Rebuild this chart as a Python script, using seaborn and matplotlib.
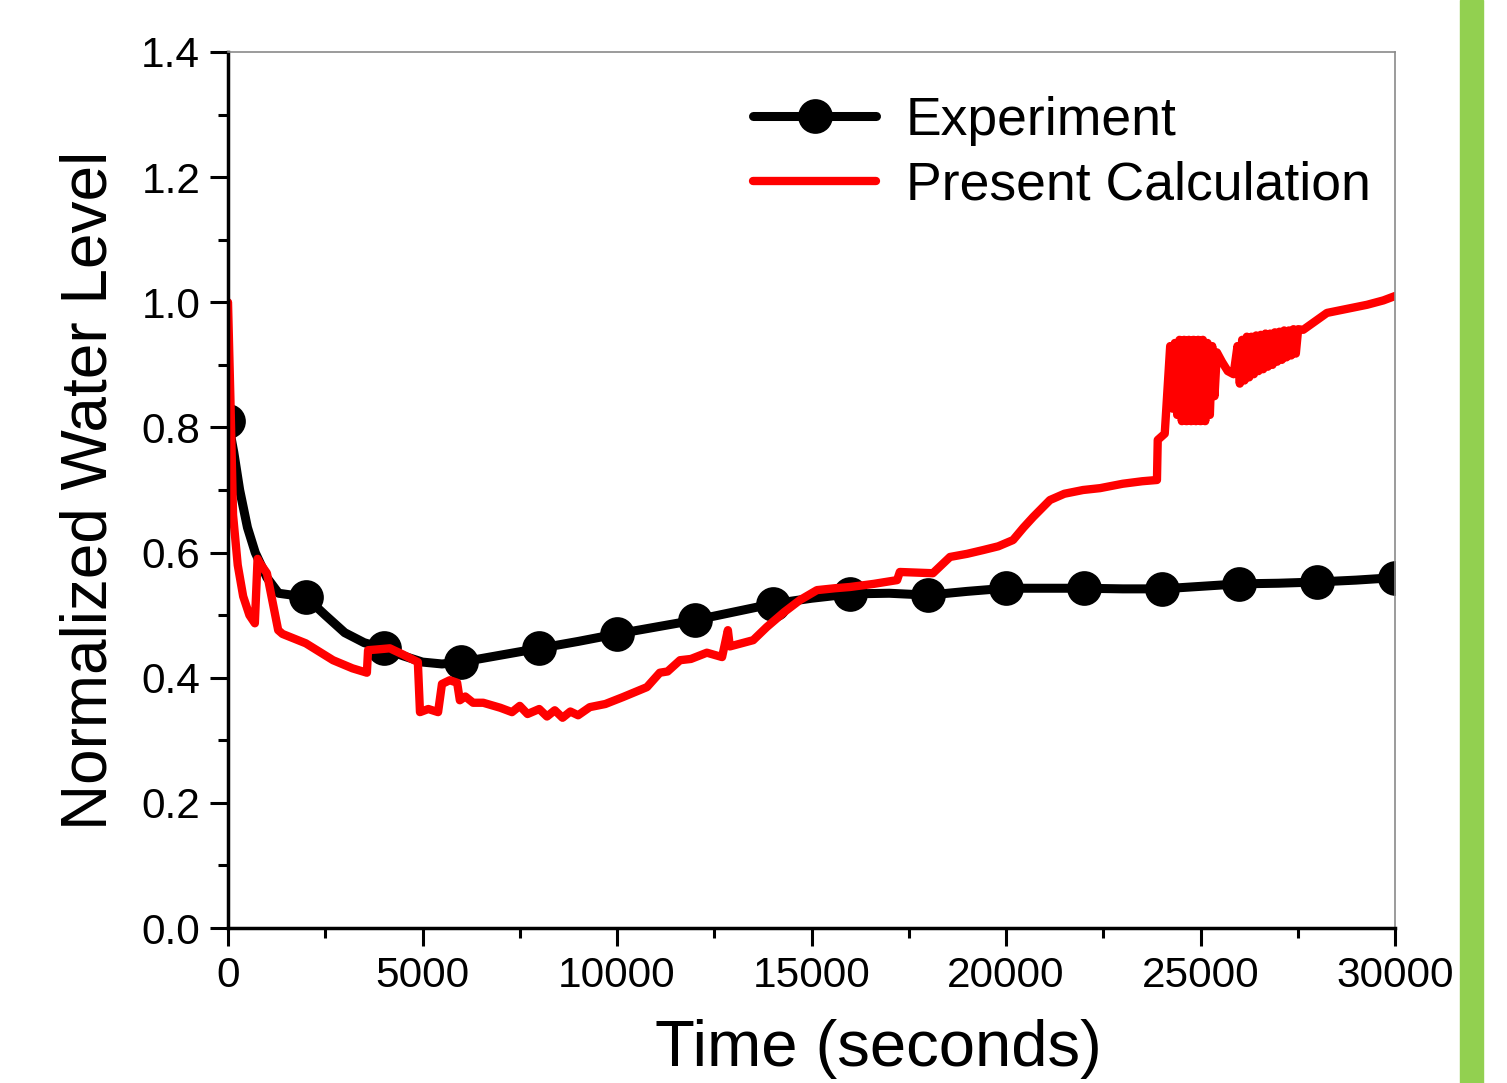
import pandas as pd
import matplotlib
matplotlib.use('Agg')
import matplotlib.pyplot as plt
from matplotlib.patches import Rectangle
from matplotlib.ticker import MultipleLocator
import seaborn as sns

sns.set_style('ticks')
plt.rcParams['font.family'] = ['Liberation Sans', 'DejaVu Sans']
plt.rcParams.update({'text.color': 'black', 'axes.labelcolor': 'black',
                     'xtick.color': 'black', 'ytick.color': 'black'})

# Experiment (continuous record, markers every 2000 s)
exp_time = [0, 150, 300, 500, 700, 1000, 1300, 2000, 2500, 3000, 3500, 4000,
            4500, 5000, 5500, 6000, 7000, 8000, 9000, 10000, 11000, 12000,
            13000, 14000, 15000, 16000, 17000, 18000, 19000, 20000, 21000,
            22000, 23000, 24000, 25000, 26000, 27000, 28000, 29000, 30000]
exp_level = [0.81, 0.76, 0.70, 0.64, 0.60, 0.56, 0.535, 0.529, 0.50, 0.472,
             0.456, 0.447, 0.435, 0.425, 0.422, 0.425, 0.436, 0.447, 0.458,
             0.470, 0.481, 0.492, 0.505, 0.518, 0.527, 0.534, 0.535, 0.532,
             0.538, 0.543, 0.543, 0.543, 0.542, 0.542, 0.546, 0.550, 0.551,
             0.553, 0.556, 0.560]
exp_marker_time = [0, 2000, 4000, 6000, 8000, 10000, 12000, 14000, 16000,
                   18000, 20000, 22000, 24000, 26000, 28000, 30000]

# Present calculation
calc_time = [0, 60, 130, 250, 390, 550, 690, 760, 800, 1000, 1150, 1290, 1400,
             2000, 2700, 3200, 3570, 3600, 3800, 4160, 4500, 4880, 4935, 5150,
             5400, 5500, 5700, 5890, 5960, 6100, 6300, 6560, 7000, 7300, 7500,
             7700, 8000, 8200, 8400, 8600, 8800, 9000, 9300, 9700, 10150, 10500,
             10770, 11100, 11300, 11620, 11900, 12310, 12700, 12850, 12900,
             13200, 13500, 13850, 14300, 14700, 15140, 15600, 15990, 16600,
             17200, 17270, 17700, 18120, 18560, 19000, 19410, 19800, 20180,
             20450, 20700, 21130, 21500, 21980, 22420, 23000, 23500, 23880,
             23900, 24080, 24160,
             24220, 24280, 24340, 24400, 24460, 24520, 24580, 24640, 24700,
             24760, 24820, 24880, 24940, 25000, 25060, 25120, 25180, 25240,
             25300, 25360, 25420,
             25550, 25700, 25850,
             25950, 26010, 26070, 26130, 26190, 26250, 26310, 26370, 26430,
             26490, 26550, 26610, 26670, 26730, 26790, 26850, 26910, 26970,
             27030, 27090, 27150, 27210, 27270, 27330, 27390, 27450, 27510,
             27640, 28250, 28800, 29280, 29700, 30000]
calc_level = [1.00, 0.85, 0.66, 0.58, 0.53, 0.50, 0.487, 0.59, 0.585, 0.567,
              0.52, 0.476, 0.47, 0.455, 0.428, 0.415, 0.408, 0.444, 0.445,
              0.447, 0.437, 0.425, 0.345, 0.35, 0.345, 0.39, 0.396, 0.392,
              0.364, 0.37, 0.36, 0.36, 0.352, 0.345, 0.355, 0.342, 0.35, 0.338,
              0.348, 0.336, 0.346, 0.34, 0.353, 0.358, 0.369, 0.378, 0.385,
              0.408, 0.41, 0.428, 0.43, 0.44, 0.433, 0.476, 0.45, 0.455, 0.46,
              0.481, 0.505, 0.524, 0.54, 0.543, 0.545, 0.55, 0.556, 0.569,
              0.568, 0.567, 0.593, 0.598, 0.604, 0.61, 0.62, 0.64, 0.657,
              0.684, 0.694, 0.70, 0.703, 0.71, 0.714, 0.716,
              0.78, 0.79, 0.87,
              0.93, 0.83, 0.935, 0.82, 0.94, 0.81, 0.94, 0.81, 0.94, 0.81,
              0.94, 0.81, 0.94, 0.81, 0.94, 0.81, 0.935, 0.82, 0.93, 0.85,
              0.92,
              0.905, 0.89, 0.885,
              0.93, 0.87, 0.94, 0.875, 0.945, 0.88, 0.945, 0.885, 0.947,
              0.89, 0.948, 0.893, 0.95, 0.897, 0.95, 0.90, 0.952, 0.905,
              0.953, 0.908, 0.955, 0.912, 0.955, 0.915, 0.957, 0.918, 0.957,
              0.956, 0.983, 0.99, 0.996, 1.003, 1.01]

exp_df = pd.DataFrame({'time': exp_time, 'level': exp_level})
calc_df = pd.DataFrame({'time': calc_time, 'level': calc_level})
mark_idx = [exp_time.index(t) for t in exp_marker_time]

fig = plt.figure(figsize=(15.07, 10.83), dpi=100)
ax = fig.add_axes([0.1513, 0.1431, 0.7744, 0.8089])

sns.lineplot(data=exp_df, x='time', y='level', ax=ax, color='black',
             linewidth=6.5, marker='o', markersize=25, markevery=mark_idx,
             markeredgewidth=0, estimator=None, errorbar=None,
             label='Experiment')
sns.lineplot(data=calc_df, x='time', y='level', ax=ax, color='#ff0000',
             linewidth=6.0, estimator=None, errorbar=None,
             label='Present Calculation')

ax.set_xlim(0, 30000)
ax.set_ylim(0, 1.4)
ax.xaxis.set_major_locator(MultipleLocator(5000))
ax.xaxis.set_minor_locator(MultipleLocator(2500))
ax.yaxis.set_major_locator(MultipleLocator(0.2))
ax.yaxis.set_minor_locator(MultipleLocator(0.1))
ax.tick_params(which='major', direction='out', length=13, width=2.2,
               labelsize=30.5, pad=7, top=False, right=False)
ax.tick_params(which='minor', direction='out', length=7, width=2.2,
               top=False, right=False)

for side in ['left', 'bottom']:
    ax.spines[side].set_linewidth(2.5)
    ax.spines[side].set_color('black')
for side in ['top', 'right']:
    ax.spines[side].set_linewidth(1.2)
    ax.spines[side].set_color('#8a8a8a')

ax.set_xlabel('Time (seconds)', fontsize=47)
ax.set_ylabel('Normalized Water Level', fontsize=46, labelpad=16)
ax.xaxis.set_label_coords(0.557, -0.104)

ax.legend(loc='upper left', bbox_to_anchor=(0.45, 0.95), frameon=False,
          fontsize=38.5, handlelength=2.3, handletextpad=0.55,
          labelspacing=0.27, borderpad=0, borderaxespad=0)

fig.patches.append(Rectangle((1460 / 1507, 0), 23 / 1507, 1,
                             transform=fig.transFigure, color='#92d050',
                             zorder=0))

plt.savefig('out.png', dpi=100)
